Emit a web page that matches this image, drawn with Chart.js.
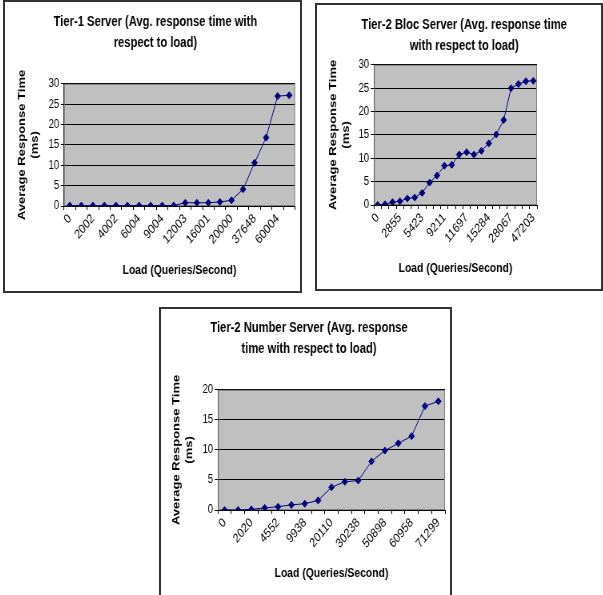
<!DOCTYPE html>
<html>
<head>
<meta charset="utf-8">
<title>Average response time with respect to load</title>
<script src="https://cdn.jsdelivr.net/npm/chart.js@4.4.1/dist/chart.umd.min.js"></script>
<style>
    body { margin: 0; width: 603px; height: 595px; position: relative; overflow: hidden; background: #fff; }
    .box { position: absolute; border: 2px solid #333; background: #fff; overflow: hidden; }
    /* the source picture is squeezed sideways, so each chart is drawn wider and squashed */
    .squash { transform: scaleX(0.8); transform-origin: 0 0; }
</style>
</head>
<body>
<div class="box" style="left:3px; top:0; width:295px; height:289px;">
    <div class="squash"><canvas id="tier1-chart" width="369" height="289"></canvas></div>
</div>
<div class="box" style="left:315px; top:3px; width:284px; height:284px;">
    <div class="squash"><canvas id="bloc-chart" width="355" height="284"></canvas></div>
</div>
<div class="box" style="left:159px; top:307px; width:289px; height:300px;">
    <div class="squash"><canvas id="number-chart" width="361" height="300"></canvas></div>
</div>
<script>
// Tier-1 Server: 20 load steps, every second one labelled
const tier1Labels = ['0', '', '2002', '', '4002', '', '6004', '', '9004', '', '12003', '', '16001', '', '20000', '', '37648', '', '60004', ''];
const tier1Times = [0.1, 0.1, 0.1, 0.1, 0.1, 0.1, 0.1, 0.1, 0.1, 0.1, 0.8, 0.8, 0.8, 1.0, 1.4, 4.1, 10.6, 16.8, 27.0, 27.2];

// Tier-2 Bloc Server: 22 load steps, every third one labelled
const blocLabels = ['0', '', '', '2855', '', '', '5423', '', '', '9211', '', '', '11697', '', '', '15284', '', '', '28067', '', '', '47203'];
const blocTimes = [0, 0.15, 0.6, 0.8, 1.4, 1.6, 2.6, 4.8, 6.3, 8.4, 8.6, 10.8, 11.3, 10.8, 11.6, 13.2, 15.1, 18.2, 25.0, 25.9, 26.5, 26.6];

// Tier-2 Number Server: 17 load steps, every second one labelled
const numberLabels = ['0', '', '2020', '', '4552', '', '9938', '', '20110', '', '30238', '', '50898', '', '60958', '', '71299'];
const numberTimes = [0, 0, 0.1, 0.35, 0.55, 0.85, 1.05, 1.6, 3.8, 4.7, 4.9, 8.1, 9.9, 11.1, 12.3, 17.3, 18.1];

const yTitle = ['Average Response Time', '(ms)'];
const xTitle = 'Load (Queries/Second)';

Chart.defaults.font.family = "'Liberation Sans', Arial, sans-serif";
Chart.defaults.color = '#000';

const plotBackground = {
    id: 'plotBackground',
    beforeDraw(chart) {
        const { ctx, chartArea: a } = chart;
        ctx.save();
        ctx.fillStyle = '#c0c0c0';
        ctx.fillRect(a.left, a.top, a.right - a.left, a.bottom - a.top);
        ctx.restore();
    },
    beforeDatasetsDraw(chart) {
        const { ctx, chartArea: a } = chart;
        ctx.save();
        ctx.strokeStyle = '#808080';
        ctx.lineWidth = 1;
        ctx.strokeRect(a.left + 0.5, a.top + 0.5, a.right - a.left - 1, a.bottom - a.top - 1);
        ctx.restore();
    }
};

function makeChart(id, title, labels, values, yMax, layout) {
    const ctx = document.getElementById(id).getContext('2d');
    return new Chart(ctx, {
        type: 'line',
        data: {
            labels: labels,
            datasets: [{
                data: values,
                yAxisID: 'y',
                borderColor: '#000080',
                borderWidth: 1,
                pointStyle: 'rectRot',
                pointRadius: 3.5,
                pointBackgroundColor: '#000080',
                pointBorderColor: '#000080',
                pointBorderWidth: 1,
                tension: 0
            }]
        },
        options: {
            responsive: false,
            animation: false,
            layout: { padding: { left: layout.left, top: 0, right: 0, bottom: 0 } },
            plugins: {
                legend: { display: false },
                tooltip: { enabled: false },
                title: {
                    display: true,
                    text: title,
                    color: '#000',
                    font: { size: 14, weight: 'bold', lineHeight: 1.55 },
                    padding: { top: layout.titleTop, bottom: layout.titleBottom }
                }
            },
            scales: {
                x: {
                    offset: true,
                    grid: { display: true, drawOnChartArea: false, offset: true, tickLength: 4, color: '#000' },
                    border: { display: true, color: '#000' },
                    ticks: { autoSkip: false, maxRotation: 45, minRotation: 45, padding: 1, font: { size: 13 }, color: '#000' },
                    title: { display: true, text: xTitle, font: { size: 13, weight: 'bold' }, padding: { top: 0, bottom: layout.xTitleBottom } },
                    afterFit(scale) { scale.height = layout.xHeight; }
                },
                y: {
                    min: 0,
                    max: yMax,
                    grid: { color: '#000', tickLength: 4 },
                    border: { display: true, color: '#000' },
                    ticks: { stepSize: 5, padding: 2, font: { size: 12 }, color: '#000' },
                    title: { display: true, text: yTitle, font: { size: 13, weight: 'bold' }, padding: { top: layout.yTitleTop, bottom: 0 } },
                    afterFit(scale) { scale.width = layout.yWidth; }
                },
                // empty strip on the right, where the source chart kept blank space
                spacer: {
                    axis: 'y',
                    position: 'right',
                    grid: { display: false },
                    border: { display: false },
                    ticks: { display: false },
                    afterFit(scale) { scale.width = layout.rightGap; }
                }
            }
        },
        plugins: [plotBackground]
    });
}

makeChart('tier1-chart', ['Tier-1 Server (Avg. response time with', 'respect to load)'], tier1Labels, tier1Times, 30,
    { left: 7, rightGap: 6.5, titleTop: 9, titleBottom: 29.5, xHeight: 85, xTitleBottom: 13, yWidth: 66.75, yTitleTop: 7 });

makeChart('bloc-chart', ['Tier-2 Bloc Server (Avg. response time', 'with respect to load)'], blocLabels, blocTimes, 30,
    { left: 13, rightGap: 80, titleTop: 9, titleBottom: 7.5, xHeight: 84, xTitleBottom: 13, yWidth: 58.25, yTitleTop: 0 });

makeChart('number-chart', ['Tier-2 Number Server (Avg. response', 'time with respect to load)'], numberLabels, numberTimes, 20,
    { left: 9, rightGap: 6, titleTop: 8, titleBottom: 29.5, xHeight: 99, xTitleBottom: 28, yWidth: 62.25, yTitleTop: 3 });
</script>
</body>
</html>
